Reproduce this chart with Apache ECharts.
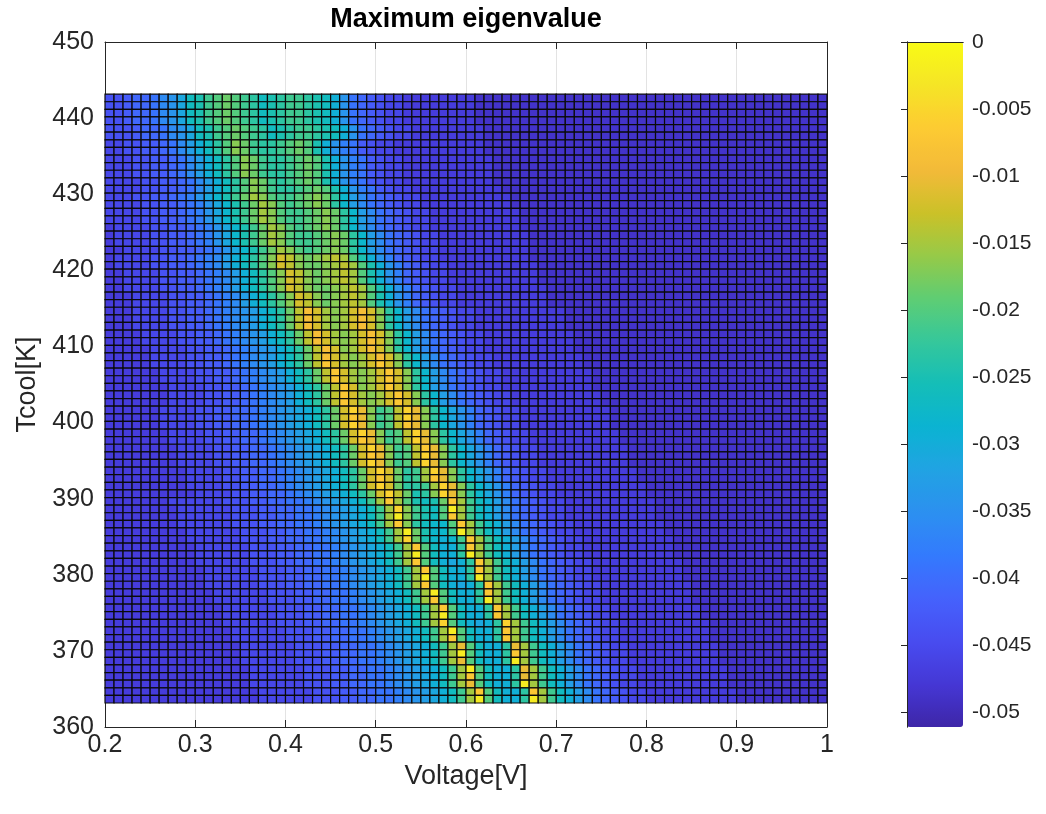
<!DOCTYPE html>
<html>
<head>
<meta charset="utf-8">
<script src="https://cdn.jsdelivr.net/npm/echarts@6/dist/echarts.min.js"></script>
<style>
  html, body { margin: 0; padding: 0; background: #ffffff; }
  #chart { width: 1046px; height: 814px; }
</style>
</head>
<body>
<div id="chart"></div>
<script>
// Sweep grid: voltage 0.20 ... 1.00 V, coolant temperature 363.15 ... 443.15 K
const voltageStart = 0.2;
const voltageStep = 0.01;
const tcoolStart = 363.15;
const tcoolStep = 1;

// Colour range of the maximum eigenvalue
const colourMin = -0.05112;
const colourMax = 0;

// Eigenvalue levels, one string per temperature row (top row = 442.15 K first),
// one character per voltage cell; each character is the level 0..31 across the colour range.
const levelCodes = '0123456789abcdefghijklmnopqrstuv';
const eigenRows = [
  '4456679acf gijkjihfgh iihgfda765 4332222222 2111111111 1111111111 1111111111 1111111111',
  '4456679acf gijkjihfgh iihgfda765 4332222222 2111111111 1111111111 1111111111 1111111111',
  '4456679acf gijkjihfgh iihgfda765 4332222222 2111111111 1111111111 1111111111 1111111111',
  '4456679acf gijkjihfgh iihgfda765 4332222222 2111111111 1111111111 1111111111 1111111111',
  '44456679ac fgijkjihfg hiihgfda76 5433222222 2211111111 1111111111 1111111111 1111111111',
  '44456679ac fgijkjihfg hiihgfda76 5433222222 2211111111 1111111111 1111111111 1111111111',
  '334455679b dfhjlkihhi jkjgda8754 3322222222 2211111111 1111111111 1111111111 1111111111',
  '334455679b dfhjlkihhi jkjgda8754 3322222222 2211111111 1111111111 1111111111 1111111111',
  '3334455679 bdfhjlkihh ijkjgda875 4332222222 2221111111 1111111111 1111111111 1111111111',
  '3334455679 bdfhjlkihh ijkjgda875 4332222222 2221111111 1111111111 1111111111 1111111111',
  '3334455679 bdfhjlkihh ijkjgda875 4332222222 2221111111 1111111111 1111111111 1111111111',
  '3333445567 9bdfhjlkih ijkjgda875 4332222222 2221111111 1111111111 1111111111 1111111111',
  '3333445567 9bdfhjlkih hijkjgda87 5433222222 2222111111 1111111111 1111111111 1111111111',
  '3334455678 acegikmlji ijklkheb97 6543322222 2222211111 1111111111 1111111111 1111111111',
  '3333445567 8acegikmlj ijklkheb97 6543322222 2222211111 1111111111 1111111111 1111111111',
  '3333445567 8acegikmlj iijklkheb9 7654332222 2222221111 1111111111 1111111111 1111111111',
  '3333445567 8acegikmlj iijklkheb9 7654332222 2222221111 1111111111 1111111111 1111111111',
  '2333344556 78acegikml jijklkheb9 7654332222 2222221111 1111111111 1111111111 1111111111',
  '2333344556 78acegikml jiijklkheb 9765433222 2222222111 1111111111 1111111111 1111111111',
  '2333344556 78acegikml jiijklkheb 9765433222 2222222111 1111111111 1111111111 1111111111',
  '2233334455 678acegikm ljijklkheb 9765433222 2222222111 1111111111 1111111111 1111111111',
  '2333344556 789bdfhjlo nlklmnmjgd a865433222 2222222111 1111111111 1111111111 1111111111',
  '2333344556 789bdfhjlo nlkklmnmjg da86543322 2222222211 1111111111 1111111111 1111111111',
  '2233334455 6789bdfhjl onlklmnmjg da86543322 2222222211 1111111111 1111111111 1111111111',
  '2233334455 6789bdfhjl onlklmnmjg da86543322 2222222211 1111111111 1111111111 1111111111',
  '2233334455 6789bdfhjl onlkklmnmj gda8654332 2222222221 1111111111 1111111111 1111111111',
  '2223333445 56789bdfhj lonlklmnmj gda8654332 2222222221 1111111111 1111111111 1111111111',
  '2223333445 56789bdfhj lonlklmnmj gda8654332 2222222221 1111111111 1111111111 1111111111',
  '2223333445 56789abdfh knqomlmoqo lheb976543 3222222222 2111111111 1111111111 1111111111',
  '2223333445 56789abdfh knqomlmoqo lheb976543 3222222222 2111111111 1111111111 1111111111',
  '2223333445 56789abdfh knqomlmoqo lheb976543 3222222222 2111111111 1111111111 1111111111',
  '2222333344 556789abdf hknqomlmoq olheb97654 3322222222 2211111111 1111111111 1111111111',
  '2222333344 556789abdf hknqomlmoq olheb97654 3322222222 2211111111 1111111111 1111111111',
  '2222233334 4556789abd fhknqolmoq olheb97654 3322222222 2211111111 1111111111 1111111111',
  '2222233334 4556789abd fhknqomlmo qolheb9765 4332222222 2221111111 1111111111 1111111111',
  '2222233334 4556789abd fhknromlmo rolheb9765 4332222222 2221111111 1111111111 1111111111',
  '2222223333 44556789ab dfhknromlm orolheb976 5433222222 2222111111 1111111111 1111111111',
  '2222223333 44556789ab dfhknromlm orolheb976 5433222222 2222111111 1111111111 1111111111',
  '2222222333 344556789a bdfhknrolm orolheb976 5433222222 2222111111 1111111111 1111111111',
  '2222222333 344556789a bdfhknroml morolheb97 6543322222 2222211111 1111111111 1111111111',
  '2222222333 344556789a bdfhknroml morolheb97 6543322222 2222211111 1111111111 1111111111',
  '2222223333 445566789a bcdfhkospl ijnsplheca 8654332222 2222221111 1111111111 1111111111',
  '2222223333 445566789a bcdfhkorpl ijnsplheca 8654332222 2222221111 1111111111 1111111111',
  '2222223333 445566789a bcdfhkospl ijnrplheca 8654332222 2222221111 1111111111 1111111111',
  '2222222333 3445566789 abcdfhkosp lijnsplhec a865433222 2222222111 1111111111 1111111111',
  '2222222333 3445566789 abcdfhkorp lijnsplhec a865433222 2222222111 1111111111 1111111111',
  '2222222233 3344556678 9abcdfhkos plijnrplhe ca86543322 2222222211 1111111111 1111111111',
  '2222222233 3344556678 9abcdfhkor plijnsplhe ca86543322 2222222211 1111111111 1111111111',
  '2222222233 3344556678 9abcdfhkos plijnsplhe ca86543322 2222222211 1111111111 1111111111',
  '2222222223 3334455667 89abcdfhko sokhimsplh eca8654332 2222222221 1111111111 1111111111',
  '2222222223 3334455667 89abcdfhko rokhimrplh eca8654332 2222222221 1111111111 1111111111',
  '2222222223 3334455667 89abcdfhko sokhhimspl heca865433 2222222222 1111111111 1111111111',
  '2222222222 3333445566 789abcdfhk osnkghlspl heca865433 2222222222 1111111111 1111111111',
  '2222222333 3334445566 7789abcdfi mrmjgfgkrm ifdb976543 3222222222 2111111111 1111111111',
  '2222222233 3333444556 67789abcdf imsligfjum ifdb976543 3222222222 2111111111 1111111111',
  '2222222233 3333444556 67789abcdf imuligfjrm ifdb976543 3222222222 2111111111 1111111111',
  '2222222233 3333444556 67789abcdf imrlhfeejr mifdb97654 3322222222 2211111111 1111111111',
  '2222222223 3333344455 667789abcd fimukgeeiu mifdb97654 3322222222 2211111111 1111111111',
  '2222222223 3333344455 667789abcd fimskgedei rmifdb9765 4332222222 2221111111 1111111111',
  '2222222222 3333334445 5667789abc dfimrjfddh rmifdb9765 4332222222 2221111111 1111111111',
  '2222222222 3333334445 5667789abc dfimujfddh umifdb9765 4332222222 2221111111 1111111111',
  '2222222222 3333334445 5667789abc dfimrjfdcd hrmifdb976 5433222222 2222111111 1111111111',
  '2222222222 2333333444 55667789ab cdfimrjfdd hrmifdb976 5433222222 2222111111 1111111111',
  '2222222222 2333333444 55667789ab cdfimujfdd humifdb976 5433222222 2222111111 1111111111',
  '2222222222 2333333444 55667789ab cdfimrjfdc dhrmifdb97 6543322222 2222211111 1111111111',
  '2222222222 2233333344 455667789a bcdfimujfd dhrmifdb97 6543322222 2222211111 1111111111',
  '2222222222 2233333344 455667789a bcdfimrjfd dhumifdb97 6543322222 2222211111 1111111111',
  '2222222222 2223333334 4455667789 abcdfimrjf ddhrmifdb9 7654332222 2222221111 1111111111',
  '2222222222 2223333334 4455667789 abcdfimujf ddhrmifdb9 7654332222 2222221111 1111111111',
  '2222222222 2223333334 4455667789 abcdfimsjf dcdhsmifdb 9765433222 2222222111 1111111111',
  '2222222222 2222333333 4445566778 9abcdfimuj fddhrmifdb 9765433222 2222222111 1111111111',
  '2222222222 2222333333 4445566778 9abcdfimrj fddhrmifdb 9765433222 2222222111 1111111111',
  '2222222222 2222233333 3444556677 89abcdfimp jfddhpmifd b976543322 2222222211 1111111111',
  '2222222222 2222233333 3444556677 89abcdfimu jfddhrmifd b976543322 2222222211 1111111111',
  '2222222222 2222233333 3444556677 89abcdfimp jfddhumifd b976543322 2222222211 1111111111',
  '2222222222 2222223333 3344455667 789abcdfim ujfddhpmif db97654332 2222222221 1111111111',
  '2222222222 2222223333 3344455667 789abcdfim rjfddhpmif db97654332 2222222221 1111111111',
  '2222222222 2222223333 3344455667 789abcdfim pjfddhumif db97654332 2222222221 1111111111',
  '2222222222 2222222333 3334445566 7789abcdfi mrjfddhrmi fdb9765433 2222222222 1111111111',
  '2222222222 2222222333 3334445566 7789abcdfi mujfddhumi fdb9765433 2222222222 1111111111'
];

// Axis tick labels
const voltageTicks = [0.2, 0.3, 0.4, 0.5, 0.6, 0.7, 0.8, 0.9, 1];
const tcoolTicks = [360, 370, 380, 390, 400, 410, 420, 430, 440, 450];
const colourTicks = [0, -0.005, -0.01, -0.015, -0.02, -0.025, -0.03, -0.035, -0.04, -0.045, -0.05];

// Parula colour map
const parula = ['#3e26a8', '#4537d5', '#484cf0', '#4562fc', '#337afd', '#2c90f0', '#21a3e3',
  '#0bb3d2', '#14beb8', '#35c79b', '#5ecd74', '#96ca48', '#cbc128', '#f3ba39', '#fdcb32',
  '#f5e526', '#f9fb15'];

// Decode rows into [voltage, tcool, eigenvalue] cells (lower-left corner of each cell)
const cells = [];
const nRows = eigenRows.length;
eigenRows.forEach((row, r) => {
  const codes = row.replace(/ /g, '');
  if (codes.length !== 80) console.warn('row ' + r + ' has ' + codes.length + ' cells');
  const j = nRows - 1 - r;
  for (let i = 0; i < codes.length; i++) {
    const level = levelCodes.indexOf(codes[i]);
    const value = colourMin + (level + 0.5) / levelCodes.length * (colourMax - colourMin);
    cells.push([
      +(voltageStart + i * voltageStep).toFixed(4),
      +(tcoolStart + j * tcoolStep).toFixed(4),
      value
    ]);
  }
});

const ink = '#262626';
const font = "'Liberation Sans', Arial, Helvetica, sans-serif";

const chart = echarts.init(document.getElementById('chart'), null, { renderer: 'canvas' });

const hiddenAxisParts = {
  axisLabel: { show: false },
  axisTick: { show: false },
  splitLine: { show: false }
};

chart.setOption({
  animation: false,
  backgroundColor: '#ffffff',
  title: {
    text: 'Maximum eigenvalue',
    left: 461,
    top: 1,
    textAlign: 'center',
    textStyle: { fontFamily: font, fontSize: 27, fontWeight: 'bold', color: '#000000' }
  },
  grid: [
    { left: 105, top: 42, width: 722, height: 685, show: false },
    { left: 907, top: 42, width: 56, height: 685, show: false }
  ],
  xAxis: [
    {
      gridIndex: 0, type: 'value', min: 0.2, max: 1, interval: 0.1, position: 'bottom',
      name: 'Voltage[V]', nameLocation: 'middle', nameGap: 27,
      nameTextStyle: { fontFamily: font, fontSize: 27, color: ink },
      axisLine: { show: true, lineStyle: { color: ink, width: 1 } },
      axisTick: { inside: true, length: 7, lineStyle: { color: ink } },
      axisLabel: {
        fontFamily: font, fontSize: 25, color: ink, margin: 6,
        customValues: voltageTicks,
        formatter: v => String(Math.round(v * 10) / 10)
      },
      splitLine: { show: true, lineStyle: { color: '#e3e3e3', width: 1 } }
    },
    {
      gridIndex: 0, type: 'value', min: 0.2, max: 1, interval: 0.1, position: 'top',
      axisLine: { show: true, lineStyle: { color: ink, width: 1 } },
      axisTick: { inside: true, length: 7, lineStyle: { color: ink } },
      axisLabel: { show: false },
      splitLine: { show: false }
    },
    Object.assign({ gridIndex: 1, type: 'value', min: 0, max: 1, position: 'bottom', z: 10,
      axisLine: { show: true, lineStyle: { color: ink, width: 1 } } }, hiddenAxisParts),
    Object.assign({ gridIndex: 1, type: 'value', min: 0, max: 1, position: 'top', z: 10,
      axisLine: { show: true, lineStyle: { color: ink, width: 1 } } }, hiddenAxisParts)
  ],
  yAxis: [
    {
      gridIndex: 0, type: 'value', min: 360, max: 450, interval: 10, position: 'left',
      name: 'Tcool[K]', nameLocation: 'middle', nameGap: 62,
      nameTextStyle: { fontFamily: font, fontSize: 27, color: ink },
      axisLine: { show: true, lineStyle: { color: ink, width: 1 } },
      axisTick: { inside: true, length: 7, lineStyle: { color: ink } },
      axisLabel: { fontFamily: font, fontSize: 25, color: ink, margin: 11, customValues: tcoolTicks },
      splitLine: { show: true, lineStyle: { color: '#e3e3e3', width: 1 } }
    },
    {
      gridIndex: 0, type: 'value', min: 360, max: 450, interval: 10, position: 'right',
      axisLine: { show: true, lineStyle: { color: ink, width: 1 } },
      axisTick: { inside: true, length: 7, lineStyle: { color: ink } },
      axisLabel: { show: false },
      splitLine: { show: false }
    },
    {
      gridIndex: 1, type: 'value', min: colourMin, max: colourMax, position: 'right', z: 10,
      axisLine: { show: true, lineStyle: { color: ink, width: 1 } },
      axisTick: { inside: true, length: 6, lineStyle: { color: ink }, customValues: colourTicks },
      axisLabel: {
        fontFamily: font, fontSize: 21, color: ink, margin: 9,
        customValues: colourTicks,
        formatter: v => String(Math.round(v * 1000) / 1000)
      },
      splitLine: { show: false }
    },
    Object.assign({ gridIndex: 1, type: 'value', min: colourMin, max: colourMax, position: 'left', z: 10,
      axisLine: { show: true, lineStyle: { color: ink, width: 1 } } }, hiddenAxisParts)
  ],
  visualMap: {
    type: 'continuous',
    min: colourMin,
    max: colourMax,
    dimension: 2,
    seriesIndex: 0,
    calculable: false,
    hoverLink: false,
    left: 907,
    top: 42,
    padding: 0,
    itemWidth: 56,
    itemHeight: 685,
    inRange: { color: parula }
  },
  series: [
    {
      type: 'custom',
      xAxisIndex: 0,
      yAxisIndex: 0,
      silent: true,
      progressive: 0,
      data: cells,
      encode: { x: 0, y: 1 },
      renderItem: (params, api) => {
        const x0 = api.value(0);
        const y0 = api.value(1);
        const topLeft = api.coord([x0, y0 + tcoolStep]);
        const bottomRight = api.coord([x0 + voltageStep, y0]);
        return {
          type: 'rect',
          shape: {
            x: topLeft[0],
            y: topLeft[1],
            width: bottomRight[0] - topLeft[0],
            height: bottomRight[1] - topLeft[1]
          },
          style: { fill: api.visual('color'), stroke: '#0a0a0a', lineWidth: 1.2 }
        };
      }
    }
  ]
});
</script>
</body>
</html>
